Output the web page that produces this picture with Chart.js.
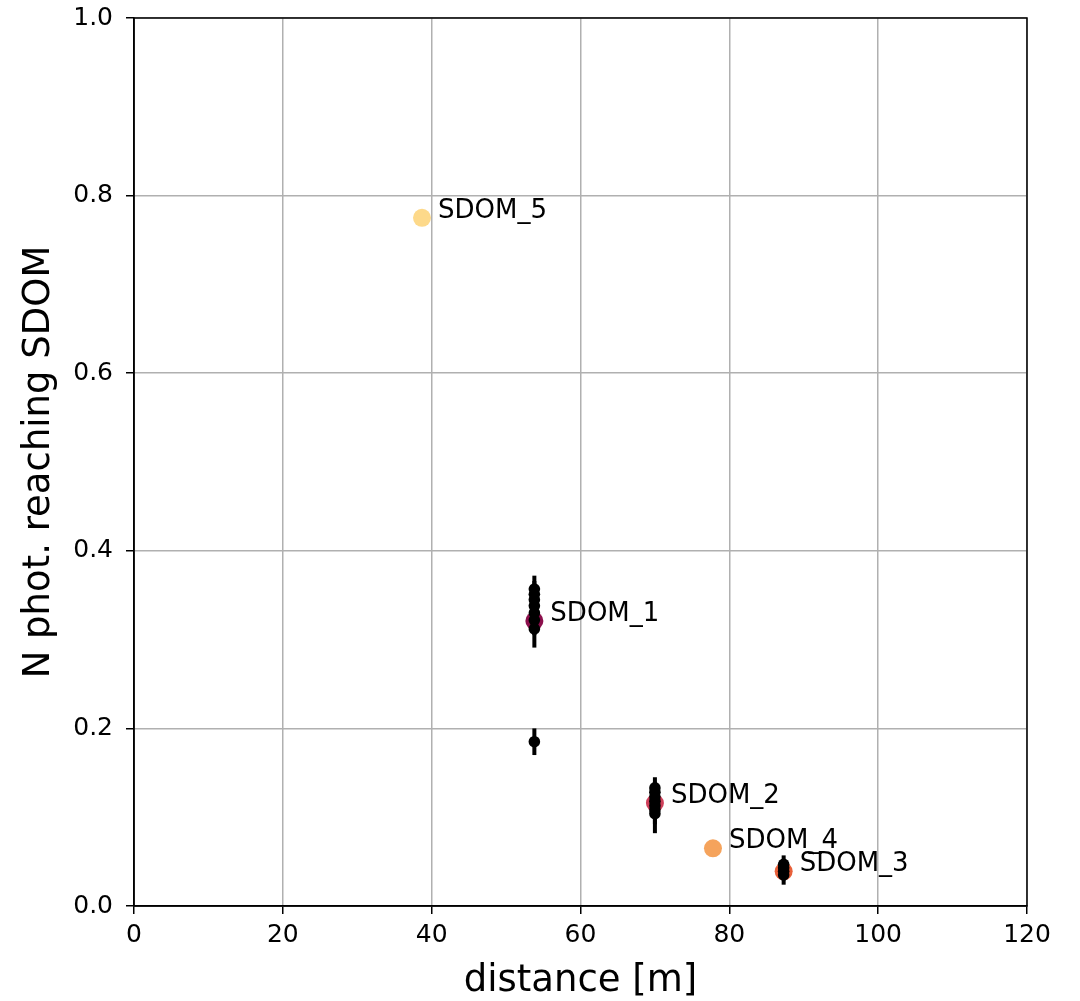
<!DOCTYPE html>
<html>
<head>
<meta charset="utf-8">
<script src="https://cdn.jsdelivr.net/npm/chart.js@4/dist/chart.umd.min.js"></script>
<style>
  body { margin: 0; background: #fff; }
  #photChart { display: block; }
</style>
</head>
<body>
<canvas id="photChart" width="1080" height="1001"></canvas>
<script>
// SDOM positions: distance from source and photon fraction
var sdomNames = ['SDOM_1', 'SDOM_2', 'SDOM_3', 'SDOM_4', 'SDOM_5'];
var sdomDist  = [53.8, 70.0, 87.3, 77.8, 38.7];
var sdomPhot  = [0.321, 0.116, 0.039, 0.065, 0.775];
var sdomColors = ['#8b0f4c', '#cf3f5a', '#e8603a', '#f5a35c', '#fdd98a'];

// individual measurements with their errors
var measDist = [53.8, 53.8, 53.8, 53.8, 53.8, 53.8, 53.8, 53.8,
                70.0, 70.0, 70.0, 70.0, 70.0, 70.0, 70.0,
                87.3, 87.3, 87.3, 87.3];
var measPhot = [0.357, 0.351, 0.345, 0.338, 0.330, 0.322, 0.312, 0.185,
                0.133, 0.128, 0.123, 0.118, 0.113, 0.108, 0.104,
                0.047, 0.043, 0.039, 0.035];
var measErr  = [0.015, 0.015, 0.015, 0.015, 0.016, 0.017, 0.021, 0.015,
                0.012, 0.012, 0.013, 0.013, 0.014, 0.016, 0.022,
                0.010, 0.010, 0.010, 0.011];

var xTicks = [0, 20, 40, 60, 80, 100, 120];
var yTicks = [0.0, 0.2, 0.4, 0.6, 0.8, 1.0];

var FONT = 'DejaVu Sans';

var sdomPoints = sdomDist.map(function(d, i) { return {x: d, y: sdomPhot[i]}; });
var measPoints = measDist.map(function(d, i) { return {x: d, y: measPhot[i], err: measErr[i]}; });

// vertical error bars + frame + SDOM name labels
var extras = {
    id: 'extras',
    afterDatasetsDraw: function(chart) {
        var c = chart.ctx, xs = chart.scales.x, ys = chart.scales.y;
        c.save();
        c.strokeStyle = '#000';
        c.lineWidth = 4;
        measPoints.forEach(function(p) {
            var px = xs.getPixelForValue(p.x);
            c.beginPath();
            c.moveTo(px, ys.getPixelForValue(p.y - p.err));
            c.lineTo(px, ys.getPixelForValue(p.y + p.err));
            c.stroke();
        });
        c.fillStyle = '#000';
        c.font = '26px "' + FONT + '"';
        c.textAlign = 'left';
        c.textBaseline = 'middle';
        sdomPoints.forEach(function(p, i) {
            c.fillText(sdomNames[i], xs.getPixelForValue(p.x) + 16, ys.getPixelForValue(p.y) - 7);
        });
        var a = chart.chartArea;
        c.lineWidth = 1.5;
        c.strokeRect(a.left, a.top, a.right - a.left, a.bottom - a.top);
        c.restore();
    }
};

var ctx = document.getElementById('photChart');
var photChart = new Chart(ctx, {
    type: 'scatter',
    data: {
        datasets: [{
            label: 'measurements',
            data: measPoints,
            backgroundColor: '#000',
            borderWidth: 0,
            pointRadius: 5.8,
            order: 0
        }, {
            label: 'SDOM',
            data: sdomPoints,
            backgroundColor: sdomColors,
            borderWidth: 0,
            pointRadius: 9,
            order: 1
        }]
    },
    options: {
        responsive: false,
        animation: false,
        layout: { padding: { top: 18, right: 53, left: 0, bottom: 0 } },
        plugins: { legend: { display: false }, tooltip: { enabled: false } },
        scales: {
            x: {
                type: 'linear',
                min: 0, max: 120,
                afterBuildTicks: function(s) { s.ticks = xTicks.map(function(v) { return {value: v}; }); },
                afterFit: function(s) { s.height = 95; s.paddingLeft = 0; s.paddingRight = 0; },
                ticks: {
                    color: '#000',
                    font: { family: FONT, size: 25 },
                    padding: 6,
                    maxRotation: 0,
                    callback: function(v) { return String(v); }
                },
                grid: { color: '#b0b0b0', lineWidth: 1.5, tickColor: '#000', tickLength: 8, tickWidth: 1.5 },
                border: { color: '#000', width: 1.5 },
                title: {
                    display: true,
                    text: 'distance [m]',
                    color: '#000',
                    font: { family: FONT, size: 37 },
                    padding: { top: 0, bottom: -3 }
                }
            },
            y: {
                type: 'linear',
                min: 0, max: 1,
                afterBuildTicks: function(s) { s.ticks = yTicks.map(function(v) { return {value: v}; }); },
                afterFit: function(s) { s.width = 134; s.paddingTop = 0; s.paddingBottom = 0; },
                ticks: {
                    color: '#000',
                    font: { family: FONT, size: 25 },
                    padding: 13,
                    callback: function(v) { return v.toFixed(1); }
                },
                grid: { color: '#b0b0b0', lineWidth: 1.5, tickColor: '#000', tickLength: 8, tickWidth: 1.5 },
                border: { color: '#000', width: 1.5 },
                title: {
                    display: true,
                    text: 'N phot. reaching SDOM',
                    color: '#000',
                    font: { family: FONT, size: 37 },
                    padding: { top: 17, bottom: 0 }
                }
            }
        }
    },
    plugins: [extras]
});
</script>
</body>
</html>
